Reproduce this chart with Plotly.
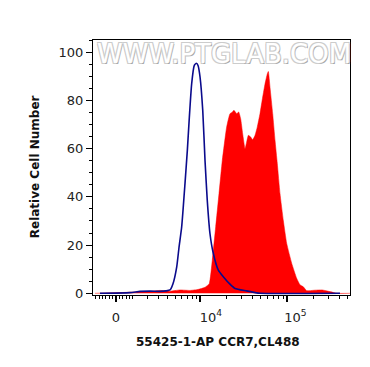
import numpy as np
import plotly.graph_objects as go

# Biexponential (arcsinh) display scale, in decades
COF = 2162.0
def disp(v):
    return np.arcsinh(np.asarray(v, dtype=float) / COF) / np.log(10)

# Isotype / control histogram (blue line): display position, relative count
ctrl_x = [-0.184, 0.161, 0.276, 0.391, 0.506, 0.575, 0.621, 0.655, 0.698, 0.724,
          0.755, 0.793, 0.820, 0.843, 0.870, 0.900, 0.925, 0.943, 0.966, 0.997,
          1.023, 1.049, 1.080, 1.118, 1.176, 1.233, 1.310, 1.368, 1.502, 1.598,
          1.655, 2.575]
ctrl_y = [0, 0.3, 0.8, 0.9, 0.8, 1.0, 1.4, 4, 11, 19,
          27.6, 45.5, 59.3, 73, 87, 94.5, 95.4, 94.5, 89.7, 75.9,
          55.2, 38.6, 24.8, 16.6, 9.6, 6.9, 3.8, 2.0, 1.0, 0.3,
          0, 0]

# CCR7 stained histogram (red fill)
ccr7_x = [-0.241, 0.046, 0.391, 0.506, 0.621, 0.736, 0.851, 0.943, 1.023, 1.072,
          1.107, 1.146, 1.184, 1.222, 1.272, 1.310, 1.333, 1.356, 1.387, 1.410,
          1.433, 1.456, 1.483, 1.502, 1.521, 1.548, 1.571, 1.598, 1.624, 1.655,
          1.686, 1.713, 1.739, 1.751, 1.770, 1.801, 1.828, 1.854, 1.885, 1.923,
          1.962, 2.020, 2.077, 2.115, 2.153, 2.192, 2.287, 2.368, 2.460, 2.540,
          2.690]
ccr7_y = [0, 0.3, 0.8, 1.2, 0.9, 1.4, 1.2, 1.6, 2.5, 4.0,
          13.8, 27.6, 41.4, 55.2, 69, 74.5, 75.0, 75.9, 74.5, 75.2,
          72.4, 66.2, 60, 62.8, 65.5, 64.8, 63.7, 65.5, 69, 74.5,
          81.4, 86.9, 91, 92, 85.5, 74.5, 63.5, 53.8, 41.4, 30.3,
          20.7, 12.4, 6.2, 3.5, 2.7, 1.1, 1.3, 1.4, 0.7, 0,
          0]

NB = "\u00a0"
major_vals = [0, 1e4, 1e5]
major_text = ["0", NB * 5 + "10<sup>4</sup>", NB * 4 + "10<sup>5</sup>"]
minor_vals = ([-1200, -1000, -800, -600, -400, -200, 200, 400, 600, 800, 1000]
              + [2000, 3000, 4000, 5000, 6000, 7000, 8000, 9000]
              + [2e4, 3e4, 4e4, 5e4, 6e4, 7e4, 8e4, 9e4]
              + [2e5, 3e5, 4e5, 5e5])

FONT = "DejaVu Sans, Arial, sans-serif"

fig = go.Figure()
fig.add_trace(go.Scatter(x=ccr7_x, y=ccr7_y, mode="lines", fill="tozeroy",
                         line=dict(color="#ff0000", width=0.5, shape="spline", smoothing=0.4),
                         fillcolor="#ff0000", hoverinfo="skip"))
fig.add_trace(go.Scatter(x=ctrl_x, y=ctrl_y, mode="lines",
                         line=dict(color="#0a0a8c", width=1.6, shape="spline", smoothing=0.5),
                         hoverinfo="skip"))

fig.update_layout(
    width=370, height=367,
    margin=dict(l=93, r=20, t=40, b=72, autoexpand=False),
    paper_bgcolor="white", plot_bgcolor="white",
    showlegend=False,
    font=dict(family=FONT, size=13, color="#222"),
)
fig.update_xaxes(
    range=[-0.2644, 2.6897], showgrid=False, zeroline=False, automargin=False,
    showline=True, linecolor="black", linewidth=1, mirror=True,
    tickmode="array", tickvals=list(disp(major_vals)), ticktext=major_text,
    ticks="outside", ticklen=6, tickwidth=2, tickcolor="black",
    ticklabelstandoff=4,
    tickfont=dict(family=FONT, size=13, color="#222"),
    minor=dict(tickmode="array", tickvals=list(disp(minor_vals)),
               ticks="outside", ticklen=3, tickwidth=1, tickcolor="black"),
)
fig.update_yaxes(
    range=[-0.7, 105.05], showgrid=False, zeroline=False, automargin=False,
    showline=True, linecolor="black", linewidth=1, mirror=True,
    tickmode="array", tickvals=[0, 20, 40, 60, 80, 100],
    ticks="outside", ticklen=6, tickwidth=1, tickcolor="black",
    tickfont=dict(family=FONT, size=13, color="#222"),
    minor=dict(tickmode="linear", tick0=0, dtick=5,
               ticks="outside", ticklen=3, tickwidth=1, tickcolor="black"),
)

# axis titles
fig.add_annotation(text="<b>Relative Cell Number</b>", xref="paper", yref="paper",
                   x=-0.2257, y=0.505, xanchor="center", yanchor="middle",
                   textangle=-90, showarrow=False,
                   font=dict(family=FONT, size=12, color="#111"))
fig.add_annotation(text="<b>55425-1-AP CCR7,CL488</b>", xref="paper", yref="paper",
                   x=0.486, y=-0.184, xanchor="center", yanchor="middle",
                   showarrow=False, font=dict(family=FONT, size=12, color="#111"))

fig.add_annotation(
    text="WWW.PTGLAB.COM", xref="paper", yref="paper", x=0.51, y=0.945,
    xanchor="center", yanchor="middle", showarrow=False,
    font=dict(family=FONT, size=26, color="white",
              shadow="-1px -1px 0 #cccccc, 1px -1px 0 #cccccc, -1px 1px 0 #cccccc, 1px 1px 0 #a8a8a8"),
)

fig.write_html("out.html", config={"displayModeBar": False},
               post_script="document.body.style.margin='0';document.body.style.overflow='hidden';")
